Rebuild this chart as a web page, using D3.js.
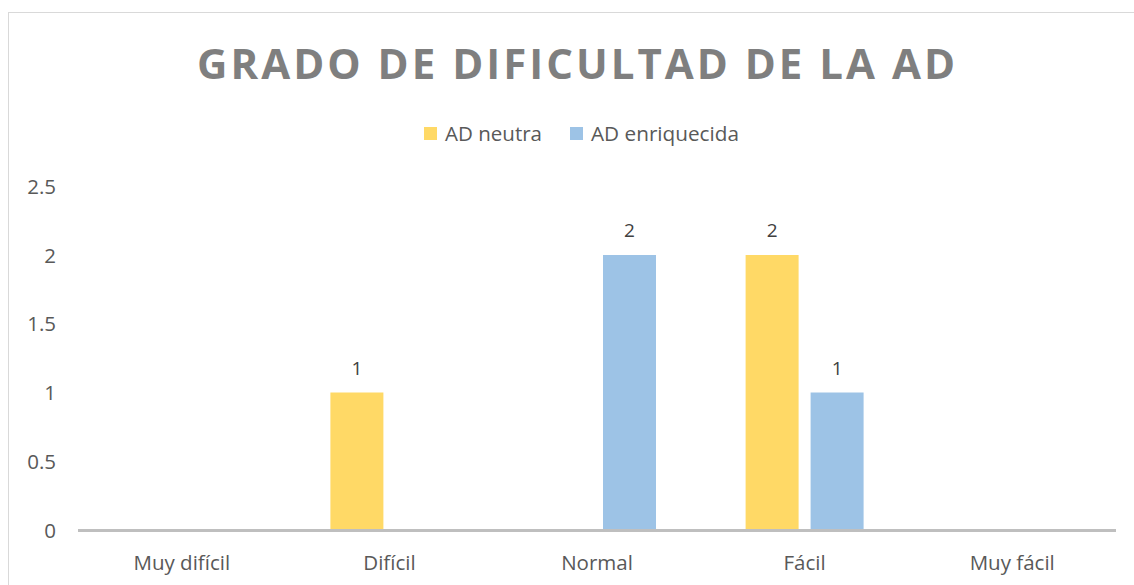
<!DOCTYPE html>
<html>
<head>
<meta charset="utf-8">
<script src="https://cdn.jsdelivr.net/npm/d3@7"></script>
<style>
  html, body { margin: 0; padding: 0; background: #ffffff; }
  svg { display: block; }
  text { font-family: "Open Sans", "Liberation Sans", sans-serif; }
</style>
</head>
<body>
<svg id="chart" width="1134" height="585"></svg>
<script>
const titleText = "GRADO DE DIFICULTAD DE LA AD";
const categories = ["Muy difícil", "Difícil", "Normal", "Fácil", "Muy fácil"];
const seriesNames = ["AD neutra", "AD enriquecida"];
const neutraValues = [0, 1, 0, 2, 0];
const enriquecidaValues = [0, 0, 2, 1, 0];
const yTicks = [0, 0.5, 1, 1.5, 2, 2.5];
const colors = ["#FFD966", "#9DC3E6"];

const seriesValues = [neutraValues, enriquecidaValues];

const svg = d3.select("#chart");

// chart border
svg.append("rect")
  .attr("x", 8.5).attr("y", 12.5)
  .attr("width", 1200).attr("height", 700)
  .attr("fill", "#ffffff")
  .attr("stroke", "#d9d9d9").attr("stroke-width", 1);

// title
svg.append("text")
  .attr("x", 197).attr("y", 79)
  .attr("textLength", 758).attr("lengthAdjust", "spacing")
  .attr("font-size", 42).attr("font-weight", 700)
  .attr("fill", "#7f7f7f")
  .text(titleText);

// legend
const legendItems = [
  { name: seriesNames[0], color: colors[0], x: 424, w: 97 },
  { name: seriesNames[1], color: colors[1], x: 570, w: 148 }
];
const lg = svg.append("g");
legendItems.forEach(it => {
  lg.append("rect").attr("x", it.x).attr("y", 127).attr("width", 13).attr("height", 13).attr("fill", it.color);
  lg.append("text").attr("x", it.x + 21).attr("y", 140.5).attr("font-size", 20).attr("fill", "#595959")
    .attr("textLength", it.w).attr("lengthAdjust", "spacingAndGlyphs").text(it.name);
});

// scales
const plotLeft = 78, plotRight = 1116, yZero = 530, yTop = 186.25;
const x0 = d3.scaleBand().domain(categories).range([plotLeft, plotRight]).padding(0);
const groupW = 118;
const x1 = d3.scaleBand().domain(seriesNames)
  .range([x0.bandwidth() / 2 - groupW / 2, x0.bandwidth() / 2 + groupW / 2])
  .paddingInner(12 / 65).paddingOuter(0);
const y = d3.scaleLinear().domain([0, 2.5]).range([yZero, yTop]);

// y tick labels
const yAxis = d3.axisLeft(y).tickValues(yTicks).tickSize(0).tickPadding(0)
  .tickFormat(d => String(d));
const yg = svg.append("g").attr("transform", "translate(56,0)").call(yAxis);
yg.select(".domain").remove();
yg.selectAll("text").attr("font-size", 20.5).attr("fill", "#595959")
  .attr("font-family", "\"Open Sans\", sans-serif").attr("dy", "0.35em");

// bars
const data = [];
categories.forEach((c, i) => {
  seriesNames.forEach((s, j) => {
    data.push({ cat: c, series: s, value: seriesValues[j][i], color: colors[j] });
  });
});
const barData = data.filter(d => d.value > 0);

svg.append("g").selectAll("rect").data(barData).join("rect")
  .attr("x", d => x0(d.cat) + x1(d.series))
  .attr("y", d => y(d.value))
  .attr("width", x1.bandwidth())
  .attr("height", d => y(0) - y(d.value))
  .attr("fill", d => d.color);

// data labels
svg.append("g").selectAll("text").data(barData).join("text")
  .attr("x", d => x0(d.cat) + x1(d.series) + x1.bandwidth() / 2)
  .attr("y", d => y(d.value) - 18)
  .attr("text-anchor", "middle")
  .attr("font-size", 19).attr("fill", "#404040")
  .text(d => d.value);

// x axis
const xAxis = d3.axisBottom(x0).tickSize(0).tickPadding(0);
const xg = svg.append("g").attr("transform", `translate(0,${yZero})`).call(xAxis);
xg.select(".domain").attr("stroke", "#bfbfbf").attr("stroke-width", 3)
  .attr("d", `M${plotLeft},0.5H${plotRight}`);
xg.selectAll("text").attr("font-size", 20.5).attr("fill", "#595959")
  .attr("font-family", "\"Open Sans\", sans-serif")
  .attr("dy", 0).attr("y", 40);
</script>
</body>
</html>
